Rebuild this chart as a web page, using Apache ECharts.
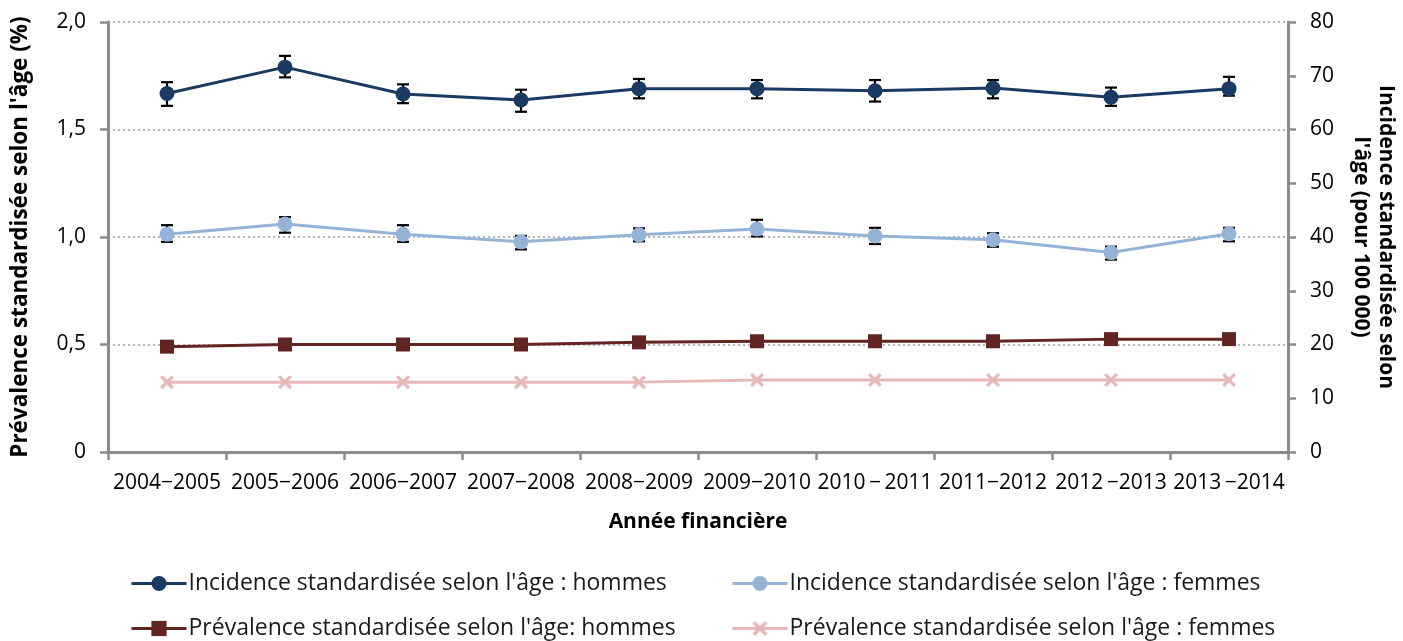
<!DOCTYPE html>
<html lang="fr">
<head>
<meta charset="utf-8">
<title>Incidence et prévalence standardisées selon l'âge</title>
<script src="https://cdn.jsdelivr.net/npm/echarts@6/dist/echarts.min.js"></script>
<style>
  html, body { margin: 0; padding: 0; background: #ffffff; }
  #chart { width: 1403px; height: 641px; }
</style>
</head>
<body>
<div id="chart"></div>
<script>
// Années financières
const categories = ['2004\u22122005', '2005\u22122006', '2006\u22122007', '2007\u22122008', '2008\u22122009',
  '2009\u22122010', '2010\u2009\u2212\u20092011', '2011\u22122012', '2012\u2009\u22122013', '2013\u2009\u22122014'];

// Incidence standardisée selon l'âge (pour 100 000) et intervalles de confiance
const incidenceHommes = [66.7, 71.6, 66.6, 65.5, 67.6, 67.6, 67.2, 67.7, 66.0, 67.6];
const incidenceHommesBas = [64.4, 69.7, 64.9, 63.3, 65.8, 65.8, 65.2, 65.8, 64.4, 66.3];
const incidenceHommesHaut = [68.8, 73.7, 68.4, 67.4, 69.4, 69.2, 69.2, 69.2, 67.8, 69.8];

const incidenceFemmes = [40.5, 42.4, 40.5, 39.1, 40.4, 41.5, 40.2, 39.5, 37.1, 40.6];
const incidenceFemmesBas = [39.1, 40.8, 39.1, 37.7, 39.2, 40.1, 38.7, 38.2, 35.8, 39.2];
const incidenceFemmesHaut = [42.2, 43.7, 42.2, 40.2, 41.6, 43.2, 41.7, 40.7, 38.2, 41.7];

// Prévalence standardisée selon l'âge (%)
const prevalenceHommes = [0.49, 0.50, 0.50, 0.50, 0.51, 0.515, 0.515, 0.515, 0.525, 0.525];
const prevalenceFemmes = [0.325, 0.325, 0.325, 0.325, 0.325, 0.335, 0.335, 0.335, 0.335, 0.335];

// Graduations des axes
const leftTicks = { min: 0, max: 2, interval: 0.5 };
const rightTicks = { min: 0, max: 80, interval: 10 };

const names = [
  "Incidence standardisée selon l'âge : hommes",
  "Incidence standardisée selon l'âge : femmes",
  "Prévalence standardisée selon l'âge: hommes",
  "Prévalence standardisée selon l'âge : femmes"
];

const FONT = '"Open Sans", Lato, sans-serif';
const AXIS_GREY = '#8c8c8c';
const crossPath = 'path://M0,2L2,0L6,4L10,0L12,2L8,6L12,10L10,12L6,8L2,12L0,10L4,6Z';

function errorData(lo, hi) {
  return lo.map((v, i) => [i, v, hi[i]]);
}

function renderErrorBar(params, api) {
  const i = api.value(0);
  const top = api.coord([i, api.value(2)]);
  const bottom = api.coord([i, api.value(1)]);
  const half = 6;
  const style = { stroke: '#000000', lineWidth: 2.2 };
  return {
    type: 'group',
    children: [
      { type: 'line', shape: { x1: top[0], y1: top[1], x2: bottom[0], y2: bottom[1] }, style },
      { type: 'line', shape: { x1: top[0] - half, y1: top[1], x2: top[0] + half, y2: top[1] }, style },
      { type: 'line', shape: { x1: bottom[0] - half, y1: bottom[1], x2: bottom[0] + half, y2: bottom[1] }, style }
    ]
  };
}

function legendAt(name, left, top) {
  return {
    data: [name],
    left: left,
    top: top,
    orient: 'horizontal',
    itemWidth: 55,
    itemHeight: 19,
    selectedMode: false,
    lineStyle: { width: 3 },
    textStyle: { fontFamily: FONT, fontSize: 23, color: '#1a1a1a', padding: [0, 0, 0, -3] }
  };
}

const chart = echarts.init(document.getElementById('chart'), null, { renderer: 'canvas' });

chart.setOption({
  animation: false,
  backgroundColor: '#ffffff',
  textStyle: { fontFamily: FONT },
  grid: { left: 108, right: 115, top: 22, bottom: 189, containLabel: false, outerBoundsMode: 'none' },
  legend: [
    legendAt(names[0], 125, 567),
    legendAt(names[1], 726, 567),
    legendAt(names[2], 125, 612),
    legendAt(names[3], 726, 612)
  ],
  xAxis: [
    {
      type: 'category',
      data: categories,
      boundaryGap: true,
      position: 'bottom',
      name: 'Année financière',
      nameLocation: 'middle',
      nameGap: 60,
      nameTextStyle: { fontFamily: FONT, fontSize: 21, fontWeight: 'bold', color: '#000000' },
      axisLine: { lineStyle: { color: AXIS_GREY, width: 3 } },
      axisTick: { show: true, interval: 0, length: 8, lineStyle: { color: AXIS_GREY, width: 2.5 } },
      axisLabel: { interval: 0, margin: 21, fontFamily: FONT, fontSize: 21, color: '#000000' }
    },
    {
      type: 'category',
      data: categories,
      position: 'top',
      axisLine: { show: true, lineStyle: { color: AXIS_GREY, width: 3 } },
      axisTick: { show: false },
      axisLabel: { show: false }
    }
  ],
  yAxis: [
    {
      type: 'value',
      position: 'left',
      min: leftTicks.min,
      max: leftTicks.max,
      interval: leftTicks.interval,
      name: "Prévalence standardisée selon l'âge (%)",
      nameLocation: 'middle',
      nameRotate: 90,
      nameGap: 76,
      nameTextStyle: { fontFamily: FONT, fontSize: 22.5, fontWeight: 'bold', color: '#000000' },
      axisLine: { show: true, lineStyle: { color: AXIS_GREY, width: 3 } },
      axisTick: { show: true, length: 8, lineStyle: { color: AXIS_GREY, width: 2.5 } },
      axisLabel: {
        margin: 22, fontFamily: FONT, fontSize: 21, color: '#000000',
        formatter: v => (v === 0 ? '0' : v.toFixed(1).replace('.', ','))
      },
      splitLine: { show: true, lineStyle: { color: '#b4b4b4', type: [2, 3], width: 2 } }
    },
    {
      type: 'value',
      position: 'right',
      min: rightTicks.min,
      max: rightTicks.max,
      interval: rightTicks.interval,
      name: "Incidence standardisée selon\nl'âge (pour 100 000)",
      nameLocation: 'middle',
      nameRotate: -90,
      nameGap: 60,
      nameTextStyle: { fontFamily: FONT, fontSize: 21, fontWeight: 'bold', color: '#000000', lineHeight: 25, align: 'center' },
      axisLine: { show: true, lineStyle: { color: AXIS_GREY, width: 3 } },
      axisTick: { show: true, length: 8, lineStyle: { color: AXIS_GREY, width: 2.5 } },
      axisLabel: { margin: 22, fontFamily: FONT, fontSize: 21, color: '#000000' },
      splitLine: { show: false }
    }
  ],
  series: [
    {
      name: 'ic-hommes',
      type: 'custom',
      xAxisIndex: 0,
      yAxisIndex: 1,
      renderItem: renderErrorBar,
      encode: { x: 0, y: [1, 2] },
      data: errorData(incidenceHommesBas, incidenceHommesHaut),
      z: 3
    },
    {
      name: 'ic-femmes',
      type: 'custom',
      xAxisIndex: 0,
      yAxisIndex: 1,
      renderItem: renderErrorBar,
      encode: { x: 0, y: [1, 2] },
      data: errorData(incidenceFemmesBas, incidenceFemmesHaut),
      z: 3
    },
    {
      name: names[0],
      type: 'line',
      yAxisIndex: 1,
      data: incidenceHommes,
      symbol: 'circle',
      symbolSize: 15,
      lineStyle: { color: '#1b3a62', width: 3 },
      itemStyle: { color: '#1b3a62' },
      z: 4
    },
    {
      name: names[1],
      type: 'line',
      yAxisIndex: 1,
      data: incidenceFemmes,
      symbol: 'circle',
      symbolSize: 15,
      lineStyle: { color: '#95b3d7', width: 3 },
      itemStyle: { color: '#95b3d7' },
      z: 4
    },
    {
      name: names[2],
      type: 'line',
      yAxisIndex: 0,
      data: prevalenceHommes,
      symbol: 'rect',
      symbolSize: [14, 14],
      lineStyle: { color: '#632523', width: 3 },
      itemStyle: { color: '#632523' },
      z: 4
    },
    {
      name: names[3],
      type: 'line',
      yAxisIndex: 0,
      data: prevalenceFemmes,
      symbol: crossPath,
      symbolSize: 14,
      lineStyle: { color: '#e6b9b8', width: 3 },
      itemStyle: { color: '#e6b9b8' },
      z: 4
    }
  ]
});
</script>
</body>
</html>
